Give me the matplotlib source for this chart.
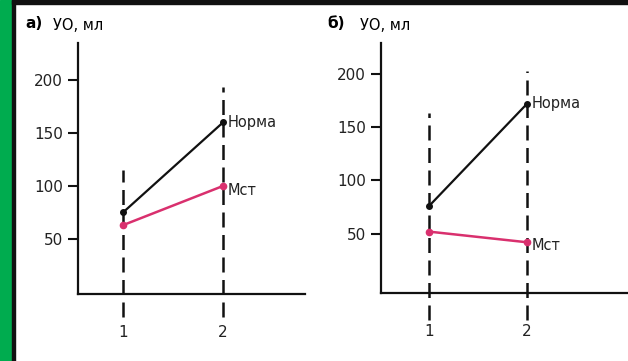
import matplotlib
matplotlib.use('Agg')
import matplotlib.pyplot as plt
from matplotlib.patches import Rectangle

# data
stages = [1, 2]
stage_labels = ['1', '2']
yticks = [50, 100, 150, 200]
norma_a = [75, 160]
mst_a = [63, 100]
norma_b = [76, 172]
mst_b = [52, 42]
# how high the dashed guides reach above each stage
guide_top_a = [115, 193]
guide_top_b = [163, 203]

W, H = 628, 361
BLACK = '#111111'
PINK = '#d9306e'
GREEN = '#00ac4f'

def px(x0, y0, x1, y1):
    # pixel box (top-left origin) -> figure fraction rect
    return [x0 / W, 1 - y1 / H, (x1 - x0) / W, (y1 - y0) / H]

fig = plt.figure(figsize=(W / 100, H / 100), dpi=100)
fig.patch.set_facecolor('white')

# frame bits: green band at the left, black line next to it and on top
fig.patches.append(Rectangle((0, 0), 12 / W, 1, transform=fig.transFigure, color=GREEN, zorder=0))
fig.patches.append(Rectangle((12 / W, 0), 2.5 / W, 1, transform=fig.transFigure, color=BLACK, zorder=0))
fig.patches.append(Rectangle((12 / W, 1 - 3.5 / H), 1, 3.5 / H, transform=fig.transFigure, color=BLACK, zorder=0))

def panel(rect, xlim, ylim, norma, mst, guide_top, guide_bottom, lbl_norma, lbl_mst):
    ax = fig.add_axes(rect)
    ax.set_xlim(xlim)
    ax.set_ylim(ylim)
    ax.patch.set_alpha(0)
    for s in ['top', 'right']:
        ax.spines[s].set_visible(False)
    for s in ['left', 'bottom']:
        ax.spines[s].set_linewidth(1.6)
        ax.spines[s].set_color(BLACK)
    ax.set_yticks(yticks)
    ax.set_yticklabels([str(v) for v in yticks], fontsize=11, color='#222222')
    ax.tick_params(axis='y', direction='out', length=7, width=1.5, pad=4, color=BLACK)
    ax.set_xticks(stages)
    ax.set_xticklabels(stage_labels, fontsize=11, color='#222222')
    ax.tick_params(axis='x', length=0, pad=22)
    # dashed guides through each stage, running below the axis
    for x, top in zip(stages, guide_top):
        ax.plot([x, x], [guide_bottom, top], color=BLACK, lw=1.8,
                linestyle=(0, (6, 3)), clip_on=False, zorder=2)
    ax.plot(stages, norma, color=BLACK, lw=1.6, marker='o', markersize=4, clip_on=False, zorder=3)
    ax.plot(stages, mst, color=PINK, lw=1.8, marker='o', markersize=4.5, clip_on=False, zorder=3)
    ax.text(stages[1] + 0.05, lbl_norma, 'Норма', fontsize=10.5, va='center', ha='left', color='#222222')
    ax.text(stages[1] + 0.05, lbl_mst, 'Мст', fontsize=10.5, va='center', ha='left', color='#222222')
    return ax

# panel а
panel(px(78, 43, 305, 294), (0.55, 2.82), (-2, 235), norma_a, mst_a,
      guide_top_a, -24, norma_a[1], mst_a[1] - 4)
# panel б
panel(px(381, 43, 627, 293), (0.51, 3.02), (-5.6, 229), norma_b, mst_b,
      guide_top_b, -31, norma_b[1], mst_b[1] - 3)

fig.text(25 / W, 1 - 23 / H, 'а)', fontsize=11, fontweight='bold', va='center', ha='left')
fig.text(53 / W, 1 - 25 / H, 'УО, мл', fontsize=10.5, va='center', ha='left')
fig.text(327 / W, 1 - 24 / H, 'б)', fontsize=11, fontweight='bold', va='center', ha='left')
fig.text(360 / W, 1 - 26 / H, 'УО, мл', fontsize=10.5, va='center', ha='left')

fig.savefig('out.png', dpi=100, facecolor='white')
